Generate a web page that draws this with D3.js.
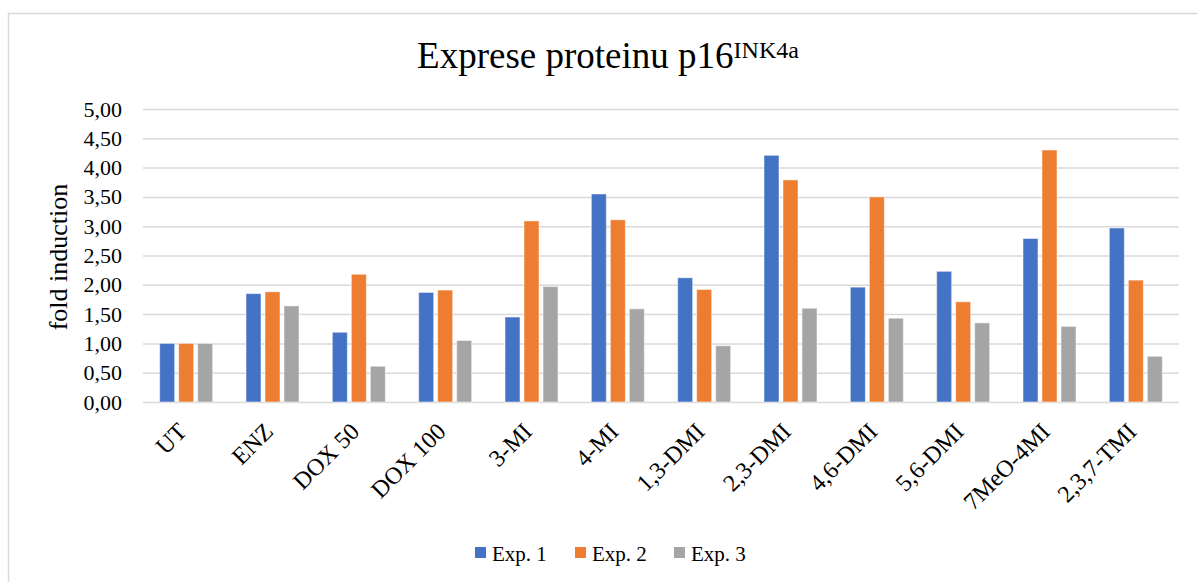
<!DOCTYPE html>
<html><head><meta charset="utf-8">
<script src="https://cdn.jsdelivr.net/npm/d3@7"></script>
<style>body{margin:0;background:#fff}svg{display:block}text{font-family:"Liberation Serif","Times New Roman","DejaVu Serif",serif;fill:#000}</style>
</head><body><svg id="c" width="1197" height="582"></svg>
<script>
const categories = ["UT","ENZ","DOX 50","DOX 100","3-MI","4-MI","1,3-DMI","2,3-DMI","4,6-DMI","5,6-DMI","7MeO-4MI","2,3,7-TMI"];
const seriesNames = ["Exp. 1","Exp. 2","Exp. 3"];
const exp1 = [1.00,1.85,1.19,1.87,1.45,3.55,2.12,4.21,1.96,2.23,2.79,2.97];
const exp2 = [1.00,1.88,2.18,1.91,3.09,3.11,1.92,3.79,3.50,1.71,4.30,2.08];
const exp3 = [1.00,1.64,0.61,1.05,1.97,1.59,0.96,1.60,1.43,1.35,1.29,0.78];
const colors = ["#4472C4","#ED7D31","#A5A5A5"];
const yTicks = [0,0.5,1,1.5,2,2.5,3,3.5,4,4.5,5];

const series = [exp1,exp2,exp3];
const svg = d3.select("#c");
const m = {l:143, r:1179, t:109, b:402};
const serif = '"Liberation Serif","Times New Roman",serif';

svg.append("rect").attr("x",8.5).attr("y",13.5).attr("width",1300).attr("height",1000)
  .attr("fill","#fff").attr("stroke","#d9d9d9").attr("stroke-width",1.5);

const x = d3.scaleBand().domain(categories).range([m.l,m.r]).paddingInner(0).paddingOuter(0);
const y = d3.scaleLinear().domain([0,5]).range([m.b,m.t]);
const fmt = v => d3.format(".2f")(v).replace(".",",");

// grid
const yAxis = d3.axisLeft(y).tickValues(yTicks).tickSize(-(m.r-m.l)).tickFormat(fmt).tickPadding(21);
const ga = svg.append("g").attr("transform",`translate(${m.l},0)`).call(yAxis);
ga.attr("font-family",serif);
ga.select(".domain").remove();
ga.selectAll(".tick line").attr("stroke","#d9d9d9").attr("stroke-width",1.5);
ga.selectAll(".tick text").attr("font-size",22).attr("fill","#000");

// bars
const barW = 15, gap = 4;
const inner = d3.scaleBand().domain([0,1,2]).range([0,barW*3+gap*2]).paddingInner(gap/(barW+gap));
series.forEach((s,si)=>{
  svg.append("g").selectAll("rect").data(s).join("rect")
    .attr("x",(d,i)=>x(categories[i]) + x.bandwidth()/2 - (barW*3+gap*2)/2 + inner(si))
    .attr("width",inner.bandwidth())
    .attr("y",d=>y(d)).attr("height",d=>y(0)-y(d))
    .attr("fill",colors[si]).attr("stroke","#fff").attr("stroke-opacity",0.5).attr("stroke-width",1);
});

// x labels
const xa = svg.append("g").attr("transform",`translate(0,${m.b})`)
  .call(d3.axisBottom(x).tickSize(0).tickPadding(0));
xa.attr("font-family",serif);
xa.select(".domain").remove();
xa.selectAll(".tick text").attr("font-size",24).attr("fill","#000")
  .attr("text-anchor","end").attr("dy",0)
  .attr("transform","translate(2,31) rotate(-45)");

// y label
svg.append("text").attr("transform",`translate(67,257) rotate(-90)`)
  .attr("text-anchor","middle").attr("font-size",26).text("fold induction");

// title
const t = svg.append("text").attr("x",608).attr("y",68).attr("text-anchor","middle").attr("font-size",37);
t.append("tspan").text("Exprese proteinu p16");
t.append("tspan").attr("font-size",24).attr("dy",-10).text("INK4a");

// legend
const lx = [475,575,674];
seriesNames.forEach((n,i)=>{
  svg.append("rect").attr("x",lx[i]).attr("y",547).attr("width",11).attr("height",11).attr("fill",colors[i]);
  svg.append("text").attr("x",lx[i]+17).attr("y",561).attr("font-size",21).text(n);
});
</script></body></html>
